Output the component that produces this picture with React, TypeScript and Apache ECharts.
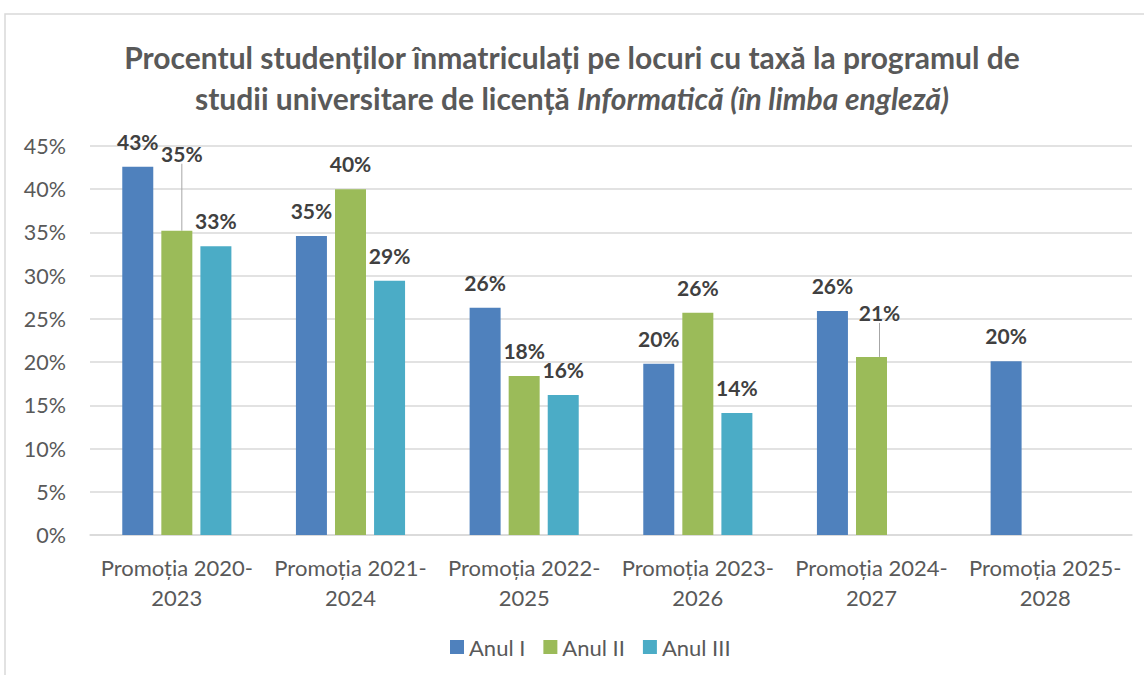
import React, { useEffect, useRef } from "react";
import * as echarts from "echarts";

const categories = [
  "Promoția 2020-\n2023",
  "Promoția 2021-\n2024",
  "Promoția 2022-\n2025",
  "Promoția 2023-\n2026",
  "Promoția 2024-\n2027",
  "Promoția 2025-\n2028",
];
const anulI = [42.6, 34.6, 26.3, 19.8, 25.9, 20.1];
const anulII = [35.2, 40.0, 18.4, 25.7, 20.6, null];
const anulIII = [33.4, 29.4, 16.2, 14.1, null, null];
const yTicks = [0, 5, 10, 15, 20, 25, 30, 35, 40, 45];

const FONT = "Lato, 'Open Sans', sans-serif";
const TXT = "#595959";

export default function App() {
  const ref = useRef<HTMLDivElement>(null);
  useEffect(() => {
    const chart = echarts.init(ref.current!, null, { renderer: "svg" });
    const labelCfg = {
      show: true,
      position: "top",
      distance: 15,
      fontFamily: FONT,
      fontSize: 21,
      fontWeight: "bold",
      color: "#404040",
      formatter: (p: any) => Math.round(p.value) + "%",
    };
    const mk = (name: string, values: any[], color: string, moved?: Record<number, number[]>) => ({
      name,
      type: "bar",
      data: values.map((v, i) =>
        moved && moved[i]
          ? { value: v, labelLine: { show: true, lineStyle: { color: "#a6a6a6", width: 1 } } }
          : { value: v, labelLine: { show: false } }
      ),
      barWidth: 31,
      barGap: "26%",
      itemStyle: { color },
      label: labelCfg,
      labelLayout: (params: any) => {
        if (moved && moved[params.dataIndex]) {
          const [dx, dy] = moved[params.dataIndex];
          return { dx, dy };
        }
        return {};
      },
    });
    chart.setOption({
      animation: false,
      textStyle: { fontFamily: FONT },
      title: {
        text:
          "Procentul studenților înmatriculați pe locuri cu taxă la programul de\nstudii universitare de licență {i|Informatică (în limba engleză)}",
        left: "center",
        top: 31,
        textStyle: {
          fontFamily: FONT,
          fontSize: 30,
          fontWeight: "bold",
          color: TXT,
          lineHeight: 41,
          rich: {
            i: {
              fontFamily: FONT,
              fontSize: 30,
              fontWeight: "bold",
              fontStyle: "italic",
              color: TXT,
              lineHeight: 41,
            },
          },
        },
      },
      graphic: [
        {
          type: "rect",
          shape: { x: 5, y: 14, width: 1200, height: 700 },
          style: { fill: "none", stroke: "#d9d9d9", lineWidth: 1.5 },
          silent: true,
        },
      ],
      legend: {
        bottom: 12,
        left: 445,
        itemWidth: 14,
        itemHeight: 14,
        itemGap: 18,
        icon: "rect",
        textStyle: { fontFamily: FONT, fontSize: 22, color: TXT },
        data: ["Anul I", "Anul II", "Anul III"],
      },
      grid: { left: 90, right: 12, top: 146, bottom: 140, containLabel: false },
      xAxis: {
        type: "category",
        data: categories,
        axisLine: { lineStyle: { color: "#d9d9d9", width: 1.5 } },
        axisTick: { show: false },
        axisLabel: {
          fontFamily: FONT,
          fontSize: 22,
          color: TXT,
          lineHeight: 30,
          margin: 17,
          interval: 0,
        },
      },
      yAxis: {
        type: "value",
        min: yTicks[0],
        max: yTicks[yTicks.length - 1],
        interval: 5,
        axisLabel: {
          fontFamily: FONT,
          fontSize: 21.5,
          color: TXT,
          margin: 24,
          formatter: (v: number) => v + "%",
        },
        splitLine: { lineStyle: { color: "#d9d9d9", width: 1.5 } },
        axisLine: { show: false },
        axisTick: { show: false },
      },
      series: [
        mk("Anul I", anulI, "#4f81bd"),
        mk("Anul II", anulII, "#9bbb59", { 0: [5, -52], 4: [8, -19] }),
        mk("Anul III", anulIII, "#4bacc6"),
      ],
    });
    return () => chart.dispose();
  }, []);
  return (
    <div
      ref={ref}
      style={{ position: "fixed", left: 0, top: 0, width: 1144, height: 675, background: "#fff" }}
    />
  );
}
